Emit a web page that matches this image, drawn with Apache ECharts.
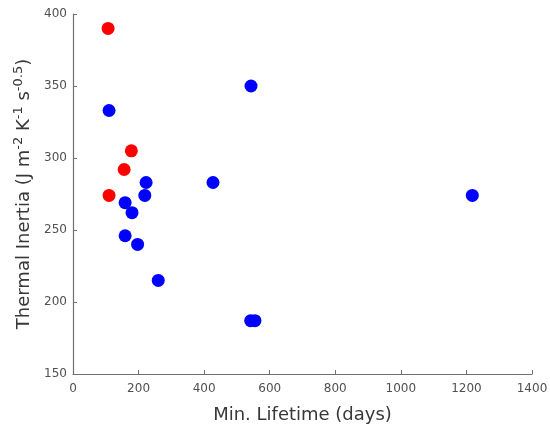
<!DOCTYPE html>
<html>
<head>
<meta charset="utf-8">
<script src="https://cdn.jsdelivr.net/npm/echarts@6/dist/echarts.min.js"></script>
<style>html,body{margin:0;padding:0;background:#fff}#c{width:550px;height:427px}</style>
</head>
<body>
<div id="c"></div>
<script>
const redX = [107, 178, 156, 110];
const redY = [390, 305, 292, 274];
const blueX = [110, 543, 223, 427, 219, 159, 180, 159, 197, 260, 542, 555, 1218];
const blueY = [333, 350, 283, 283, 274, 269, 262, 246, 240, 215, 187, 187, 274];
const xTicks = [0, 200, 400, 600, 800, 1000, 1200, 1400];
const yTicks = [150, 200, 250, 300, 350, 400];

const zip = (a, b) => a.map((v, i) => [v, b[i]]);
const axisColor = '#707070';
const textColor = '#383838';
const tickColor = '#505050';
const font = '"DejaVu Sans", sans-serif';

const chart = echarts.init(document.getElementById('c'), null, {renderer: 'canvas'});
chart.setOption({
  animation: false,
  grid: {left: 73, right: 18, top: 14, bottom: 53, containLabel: false, outerBoundsMode: 'none'},
  xAxis: {
    type: 'value', min: xTicks[0], max: xTicks[xTicks.length - 1], interval: 200,
    name: 'Min. Lifetime (days)', nameLocation: 'middle', nameGap: 32,
    nameTextStyle: {fontSize: 18, color: textColor, fontFamily: font},
    axisLine: {show: true, lineStyle: {color: axisColor, width: 1.2}},
    axisTick: {show: true, inside: true, length: 4, lineStyle: {color: axisColor}},
    axisLabel: {fontSize: 12, color: tickColor, fontFamily: font, margin: 9, formatter: v => String(v)},
    splitLine: {show: false}
  },
  yAxis: {
    type: 'value', min: yTicks[0], max: yTicks[yTicks.length - 1], interval: 50,
    name: '{a|Thermal Inertia (J m}{s|-2}{a| K}{s|-1}{a| s}{s|-0.5}{a|)}',
    nameLocation: 'middle', nameGap: 33, nameRotate: 90,
    nameTextStyle: {
      color: textColor, fontFamily: font,
      rich: {
        a: {fontSize: 18, color: textColor, fontFamily: font},
        s: {fontSize: 13, color: textColor, fontFamily: font, padding: [0, 0, 12, 0]}
      }
    },
    axisLine: {show: true, lineStyle: {color: axisColor, width: 1.2}},
    axisTick: {show: true, inside: true, length: 4, lineStyle: {color: axisColor}},
    axisLabel: {fontSize: 12, color: tickColor, fontFamily: font, margin: 6, formatter: v => String(v)},
    splitLine: {show: false}
  },
  series: [
    {type: 'scatter', data: zip(blueX, blueY), symbolSize: 13, itemStyle: {color: '#0000ff', opacity: 1}, emphasis: {disabled: true}},
    {type: 'scatter', data: zip(redX, redY), symbolSize: 13, itemStyle: {color: '#ff0000', opacity: 1}, emphasis: {disabled: true}}
  ]
});
</script>
</body>
</html>
